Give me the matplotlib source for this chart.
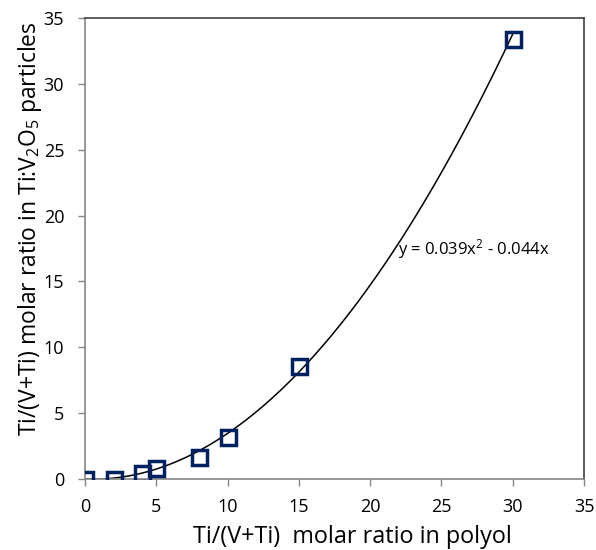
import numpy as np
import matplotlib
matplotlib.use("Agg")
import matplotlib.pyplot as plt

plt.rcParams["font.family"] = ["Open Sans", "DejaVu Sans"]
plt.rcParams["mathtext.fontset"] = "custom"
plt.rcParams["mathtext.rm"] = "Open Sans"
plt.rcParams["mathtext.it"] = "Open Sans"

# data
ratio_polyol = [0, 2, 4, 5, 8, 10, 15, 30]
ratio_particles = [0.0, 0.0, 0.46, 0.82, 1.65, 3.2, 8.58, 33.4]

# trendline coefficients from the label
fit_a = 0.039
fit_b = -0.044

fig = plt.figure(figsize=(5.96, 5.5), dpi=100)
ax = fig.add_axes([0.1426, 0.1291, 0.8373, 0.8382])

xs = np.linspace(0, max(ratio_polyol), 200)
ax.plot(xs, fit_a * xs**2 + fit_b * xs, color="black", lw=1.1, zorder=2)
ax.plot(
    ratio_polyol,
    ratio_particles,
    linestyle="None",
    marker="s",
    markersize=10.8,
    markerfacecolor="none",
    markeredgecolor="#002060",
    markeredgewidth=2.5,
    zorder=3,
)

ax.text(21.95, 17.45, "y = 0.039x$^2$ - 0.044x", fontsize=12, va="center", ha="left")

ax.set_xlim(0, 35)
ax.set_ylim(0, 35)
ax.set_xticks(range(0, 36, 5))
ax.set_yticks(range(0, 36, 5))
ax.tick_params(axis="both", direction="out", length=5, width=1, color="#868686",
               labelsize=13, labelcolor="black")
ax.tick_params(axis="x", pad=8.5)
ax.tick_params(axis="y", pad=10)

for side in ["left", "bottom"]:
    ax.spines[side].set_color("#868686")
    ax.spines[side].set_linewidth(1.2)
for side in ["top", "right"]:
    ax.spines[side].set_color("#404040")
    ax.spines[side].set_linewidth(1.2)

ax.set_xlabel("Ti/(V+Ti)  molar ratio in polyol", fontsize=16.8, va="baseline")
ax.xaxis.set_label_coords(0.535, -0.139)
ax.set_ylabel("Ti/(V+Ti) molar ratio in Ti:V$_2$O$_5$ particles", fontsize=16.5, va="center")
ax.yaxis.set_label_coords(-0.110, 0.543)

fig.savefig("out.png", dpi=100)
